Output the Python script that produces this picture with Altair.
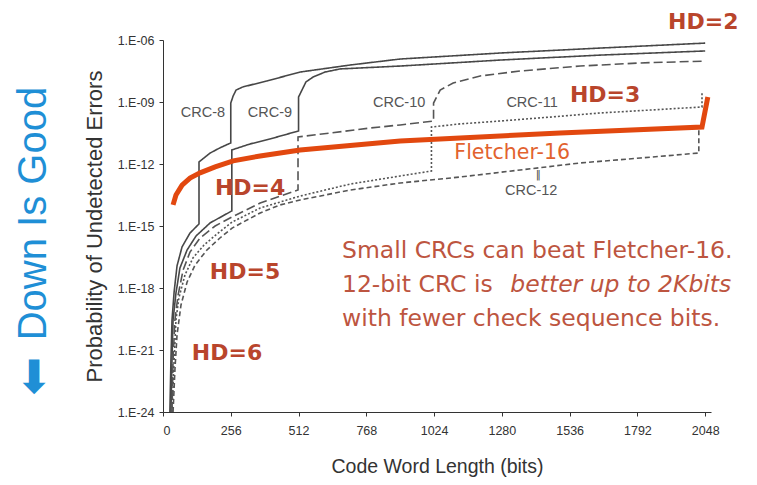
import altair as alt
import pandas as pd

# ---- data: code word length (bits) and log10(P undetected) ----
crc8_bits = [26, 30, 34, 42, 53, 72, 102, 136, 136, 178, 215, 256, 256, 265, 276, 302, 393, 518, 707, 896, 1274, 1652, 2048]
crc8_logp = [-24, -21.48, -19.55, -18.19, -16.93, -16.01, -15.34, -14.90, -11.90, -11.47, -11.22, -10.98, -9.05, -8.71, -8.42, -8.27, -7.98, -7.55, -7.21, -6.92, -6.63, -6.39, -6.15]

crc9_bits = [30, 34, 38, 49, 64, 91, 125, 178, 260, 260, 329, 404, 512, 512, 525, 540, 567, 612, 669, 896, 1274, 1652, 2048]
crc9_logp = [-24, -21.48, -19.55, -18.24, -17.03, -16.16, -15.48, -14.85, -14.27, -11.32, -11.03, -10.79, -10.40, -8.76, -8.42, -8.03, -7.79, -7.55, -7.40, -7.26, -6.97, -6.73, -6.53]

crc10_bits = [34, 38, 45, 57, 76, 102, 140, 197, 261, 367, 510, 510, 631, 782, 896, 1022, 1022, 1047, 1096, 1198, 1349, 1576, 1803, 2048]
crc10_logp = [-24, -21.48, -19.55, -18.34, -17.13, -16.26, -15.58, -15.0, -14.56, -13.89, -13.26, -10.69, -10.5, -10.26, -10.11, -9.92, -9.05, -8.42, -8.08, -7.74, -7.50, -7.26, -7.11, -7.02]

crc11_bits = [34, 42, 49, 60, 83, 113, 155, 208, 261, 367, 518, 707, 896, 1014, 1014, 1122, 1274, 1462, 1652, 1840, 2036, 2036]
crc11_logp = [-24, -21.48, -19.55, -18.48, -17.37, -16.55, -15.92, -15.34, -14.81, -14.13, -13.55, -12.97, -12.58, -12.34, -10.21, -10.06, -9.92, -9.73, -9.53, -9.39, -9.24, -8.52]

crc12_bits = [38, 45, 53, 68, 91, 121, 166, 215, 261, 367, 442, 518, 707, 896, 1122, 1349, 1576, 1803, 2024, 2024]
crc12_logp = [-24, -21.97, -20.27, -18.82, -17.71, -16.89, -16.16, -15.58, -15.10, -14.37, -13.98, -13.74, -13.26, -12.92, -12.63, -12.29, -11.95, -11.71, -11.47, -10.35]

fletcher_bits = [38, 49, 72, 102, 140, 197, 265, 367, 518, 896, 1122, 1500, 2036, 2058]
fletcher_logp = [-13.98, -13.5, -13.02, -12.68, -12.43, -12.14, -11.85, -11.61, -11.32, -10.89, -10.74, -10.5, -10.21, -8.76]

crc_names = ["CRC-8", "CRC-9", "CRC-10", "CRC-11", "CRC-12"]
crc_colors = ["#474747", "#474747", "#555555", "#555555", "#555555"]
crc_dash = [[1, 0], [1, 0], [9, 4], [2, 2], [5, 3]]

x_ticks = [0, 256, 512, 768, 1024, 1280, 1536, 1792, 2048]
y_ticks = [-24, -21, -18, -15, -12, -9, -6]

# annotation labels (text, bits, log10 p)
crc_label_text = ["CRC-8", "CRC-9", "CRC-10", "CRC-11", "CRC-12"]
crc_label_bits = [151, 404, 892, 1394, 1391]
crc_label_logp = [-9.53, -9.53, -9.05, -9.05, -13.32]

marker_text = ["\u2016"]
marker_bits = [1417]
marker_logp = [-12.55]

hd_text = ["HD=2", "HD=3", "HD=4", "HD=5", "HD=6"]
hd_bits = [2041, 1670, 329, 310, 242]
hd_logp = [-5.13, -8.66, -13.16, -17.22, -21.14]

note_text = ["Small CRCs can beat Fletcher-16.", "12-bit CRC is", "with fewer check sequence bits."]
note_bits = [676, 676, 676]
note_logp = [-16.2, -17.85, -19.5]
note_italic_text = ["better up to 2Kbits"]
note_italic_bits = [1312]
note_italic_logp = [-17.85]

fletcher_label = ["Fletcher-16"]
fletcher_label_bits = [1319]
fletcher_label_logp = [-11.45]

side_text = ["Down Is Good"]
side_bits = [-487]
side_logp = [-14.4]
arrow_text = ["\u2b07"]
arrow_bits = [-487]
arrow_logp = [-22.4]

# ---- build tables ----
rows = []
for name, bx, ly in zip(crc_names,
                        [crc8_bits, crc9_bits, crc10_bits, crc11_bits, crc12_bits],
                        [crc8_logp, crc9_logp, crc10_logp, crc11_logp, crc12_logp]):
    for i, (b, l) in enumerate(zip(bx, ly)):
        rows.append({"series": name, "bits": b, "logp": l, "idx": i})
df = pd.DataFrame(rows)
df_f = pd.DataFrame({"bits": fletcher_bits, "logp": fletcher_logp, "idx": list(range(len(fletcher_bits)))})

FONT = "Liberation Sans"

x_enc = alt.X("bits:Q", scale=alt.Scale(domain=[0, 2070], nice=False, zero=False),
              axis=alt.Axis(values=x_ticks, grid=False, title="Code Word Length (bits)",
                            tickSize=4, labelFontSize=12.5, titleFontSize=19.5, labelPadding=8,
                            titlePadding=21, domainColor="#333", tickColor="#333",
                            labelColor="#333", titleColor="#333", labelFont=FONT, titleFont=FONT,
                            titleFontWeight="normal", format="d"))
y_enc = alt.Y("logp:Q", scale=alt.Scale(domain=[-24, -6], nice=False, zero=False),
              axis=alt.Axis(values=y_ticks, grid=False, title="Probability of Undetected Errors",
                            labelExpr="'1.E-' + (datum.value > -10 ? '0' : '') + (-datum.value)",
                            tickSize=4, labelFontSize=12.5, titleFontSize=22, labelPadding=5,
                            titlePadding=11, domainColor="#333", tickColor="#333",
                            labelColor="#333", titleColor="#333", labelFont=FONT, titleFont=FONT,
                            titleFontWeight="normal"))

lines = alt.Chart(df).mark_line(strokeCap="butt", strokeJoin="miter", strokeWidth=1.6).encode(
    x=x_enc,
    y=y_enc,
    detail="series:N",
    order="idx:Q",
    color=alt.Color("series:N", scale=alt.Scale(domain=crc_names, range=crc_colors), legend=None),
    strokeDash=alt.StrokeDash("series:N", scale=alt.Scale(domain=crc_names, range=crc_dash), legend=None),
)

fletcher = alt.Chart(df_f).mark_line(strokeWidth=5, color="#e2480f", strokeCap="butt",
                                     strokeJoin="miter").encode(
    x="bits:Q", y="logp:Q", order="idx:Q")


def text_layer(texts, bx, ly, **kw):
    d = pd.DataFrame({"t": texts, "bits": bx, "logp": ly})
    return alt.Chart(d).mark_text(**kw).encode(x="bits:Q", y="logp:Q", text="t:N")


crc_labels = text_layer(crc_label_text, crc_label_bits, crc_label_logp,
                        font=FONT, fontSize=14.5, color="#555555", align="center", baseline="middle")
marker = text_layer(marker_text, marker_bits, marker_logp,
                    font="DejaVu Sans", fontSize=10, color="#444444", align="center", baseline="middle")
hd_labels = text_layer(hd_text, hd_bits, hd_logp, font="DejaVu Sans", fontSize=22, fontWeight="bold",
                       color="#b9452c", align="center", baseline="middle")
notes = text_layer(note_text, note_bits, note_logp, font="DejaVu Sans", fontSize=23.5,
                   color="#bd5540", align="left", baseline="middle")
notes_it = text_layer(note_italic_text, note_italic_bits, note_italic_logp, font="DejaVu Sans",
                      fontSize=23.5, fontStyle="italic", color="#bd5540", align="left", baseline="middle")
flet = text_layer(fletcher_label, fletcher_label_bits, fletcher_label_logp, font="DejaVu Sans",
                  fontSize=20.5, color="#e2622e", align="center", baseline="middle")
side = text_layer(side_text, side_bits, side_logp, font=FONT, fontSize=40, angle=270,
                  color="#1f8fd6", align="center", baseline="middle")
arrow = text_layer(arrow_text, arrow_bits, arrow_logp, font="DejaVu Sans", fontSize=46,
                   color="#1f8fd6", align="center", baseline="middle")

chart = alt.layer(lines, fletcher, crc_labels, marker, hd_labels, notes, notes_it, flet, side, arrow).properties(
    width=548, height=372,
    autosize=alt.AutoSizeParams(type="none"),
    padding={"left": 155, "top": 32, "right": 38, "bottom": 65},
    background="white",
).configure_view(stroke=None)

chart.save("out.html", embed_options={"renderer": "svg", "actions": False})
